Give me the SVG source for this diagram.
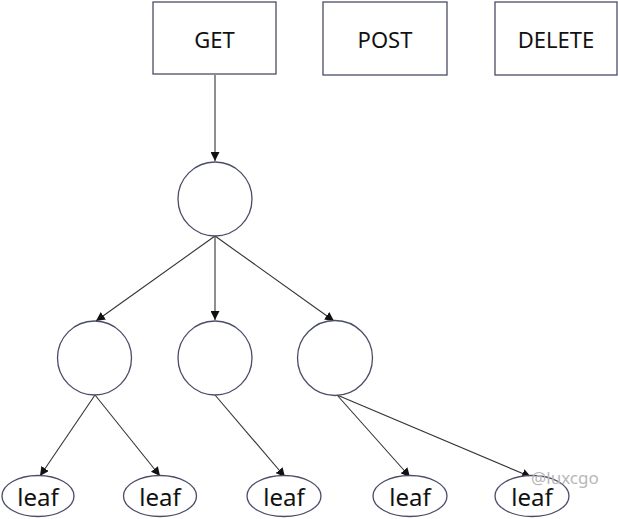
<svg xmlns="http://www.w3.org/2000/svg" width="618" height="519" viewBox="0 0 618 519">
<style>
.box{fill:#fff;stroke:#4a4d66;stroke-width:1.3}
.node{fill:#fff;stroke:#4a4d66;stroke-width:1.3}
.lbl{font-family:"Noto Sans","Open Sans",sans-serif;font-size:22px;fill:#111;text-anchor:middle;dominant-baseline:central}
.leaf{font-size:24px}
.edge{stroke:#333;stroke-width:1.1;fill:none;marker-end:url(#arr)}
.wm{font-family:"Noto Sans",sans-serif;font-size:17px;fill:#b8b8b8}
</style>
<defs>
<marker id="arr" viewBox="0 0 10 10" refX="10" refY="5" markerWidth="9" markerHeight="9" markerUnits="userSpaceOnUse" orient="auto">
<path d="M0,0 L10,5 L0,10 z" fill="#111"/>
</marker>
</defs>
<rect width="618" height="519" fill="#fff"/>
<g id="connectors">
<line class="edge" x1="215" y1="75" x2="215" y2="161"/>
<line class="edge" x1="215" y1="236" x2="96" y2="321"/>
<line class="edge" x1="215" y1="236" x2="215" y2="320"/>
<line class="edge" x1="215" y1="236" x2="334" y2="321"/>
<line class="edge" x1="95" y1="395" x2="40" y2="476"/>
<line class="edge" x1="95" y1="395" x2="160" y2="476"/>
<line class="edge" x1="215" y1="395" x2="285" y2="477"/>
<line class="edge" x1="337" y1="395" x2="410" y2="477"/>
<line class="edge" x1="337" y1="395" x2="531" y2="477"/>
</g>
<g id="get"><rect class="box" x="153" y="2" width="123" height="72"/><text class="lbl" x="214.5" y="39">GET</text></g>
<g id="post"><rect class="box" x="323" y="2" width="124" height="73"/><text class="lbl" x="385" y="39">POST</text></g>
<g id="delete"><rect class="box" x="495" y="2" width="122" height="73"/><text class="lbl" x="556" y="39">DELETE</text></g>
<g id="root"><circle class="node" cx="215" cy="199" r="37"/></g>
<g id="n1"><circle class="node" cx="94.5" cy="358" r="37"/></g>
<g id="n2"><circle class="node" cx="215" cy="358" r="37"/></g>
<g id="n3"><circle class="node" cx="335" cy="358" r="37.5"/></g>
<g id="leaf1"><ellipse class="node" cx="38" cy="496" rx="36" ry="20.5"/><text class="lbl leaf" x="38" y="496">leaf</text></g>
<g id="leaf2"><ellipse class="node" cx="160" cy="496" rx="36.5" ry="20.5"/><text class="lbl leaf" x="160" y="496">leaf</text></g>
<g id="leaf3"><ellipse class="node" cx="284" cy="496" rx="37" ry="20.5"/><text class="lbl leaf" x="284" y="496">leaf</text></g>
<g id="leaf4"><ellipse class="node" cx="410" cy="496" rx="37" ry="20.5"/><text class="lbl leaf" x="410" y="496">leaf</text></g>
<g id="leaf5"><ellipse class="node" cx="532" cy="496" rx="37" ry="20.5"/><text class="lbl leaf" x="532" y="496">leaf</text></g>
<text class="wm" x="531" y="484">@luxcgo</text>
</svg>
